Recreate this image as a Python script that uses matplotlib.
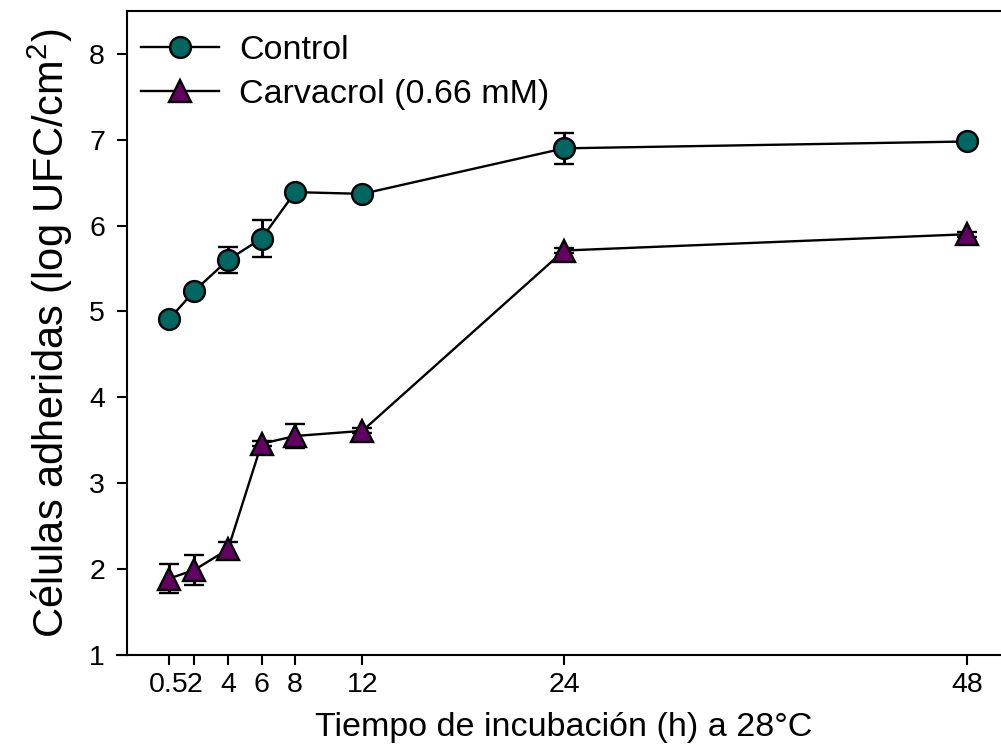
import matplotlib
matplotlib.use("Agg")
import matplotlib.pyplot as plt
from matplotlib.lines import Line2D

plt.rcParams["font.family"] = ["Liberation Sans", "DejaVu Sans"]
plt.rcParams["mathtext.fontset"] = "custom"
plt.rcParams["mathtext.rm"] = "Liberation Sans"
plt.rcParams["mathtext.it"] = "Liberation Sans"

hours = [0.5, 2, 4, 6, 8, 12, 24, 48]
tick_labels = ["0.5", "2", "4", "6", "8", "12", "24", "48"]

control = [4.91, 5.24, 5.60, 5.85, 6.39, 6.37, 6.90, 6.98]
control_err = [0.05, 0.05, 0.15, 0.22, 0.05, 0.03, 0.18, 0.05]

carvacrol = [1.89, 1.99, 2.23, 3.46, 3.55, 3.61, 5.71, 5.90]
carvacrol_err = [0.17, 0.17, 0.08, 0.03, 0.14, 0.03, 0.03, 0.03]

teal = "#006661"
purple = "#640064"

fig = plt.figure(figsize=(10.01, 7.5), dpi=100)
ax = fig.add_axes([0.127, 0.1267, 0.873, 0.8587])

ax.errorbar(hours, control, yerr=control_err, color="black", lw=1.7,
            elinewidth=2.2, capsize=7, capthick=2.2, marker="o", ms=15,
            mfc=teal, mec="black", mew=1.7, label="Control", zorder=3)
ax.errorbar(hours, carvacrol, yerr=carvacrol_err, color="black", lw=1.7,
            elinewidth=2.2, capsize=7, capthick=2.2, marker="^", ms=16,
            mfc=purple, mec="black", mew=1.7, label="Carvacrol (0.66 mM)", zorder=3)

ax.set_xlim(-2, 50)
ax.set_ylim(1, 8.5)
ax.set_xticks(hours)
ax.set_xticklabels(tick_labels)
ax.set_yticks(range(1, 9))

for side in ["left", "bottom", "top"]:
    ax.spines[side].set_linewidth(1.5)
ax.spines["right"].set_visible(False)
ax.tick_params(axis="both", direction="out", length=7, width=1.5,
               labelsize=20.5)
ax.tick_params(axis="x", pad=5)
ax.tick_params(axis="y", pad=9)
ax.tick_params(top=False, right=False)

# bottom axis line runs out under the y ticks
ax.add_line(Line2D([-0.012, 0], [0, 0], transform=ax.transAxes, color="black",
                   lw=1.5, clip_on=False))

ax.set_xlabel("Tiempo de incubación (h) a 28°C", fontsize=24.5, labelpad=10)
ax.set_ylabel("Células adheridas (log UFC/cm$^2$)", fontsize=30, labelpad=10)

handles = [
    Line2D([], [], color="black", lw=1.7, marker="o", ms=15, mfc=teal,
           mec="black", mew=1.7),
    Line2D([], [], color="black", lw=1.7, marker="^", ms=16, mfc=purple,
           mec="black", mew=1.7),
]
ax.legend(handles, ["Control", "Carvacrol (0.66 mM)"], loc="upper left",
          bbox_to_anchor=(0.0, 0.9845), frameon=False, fontsize=24.5,
          handlelength=2.3, handletextpad=0.6, labelspacing=0.4,
          borderaxespad=0.0)

fig.savefig("out.png", dpi=100)
